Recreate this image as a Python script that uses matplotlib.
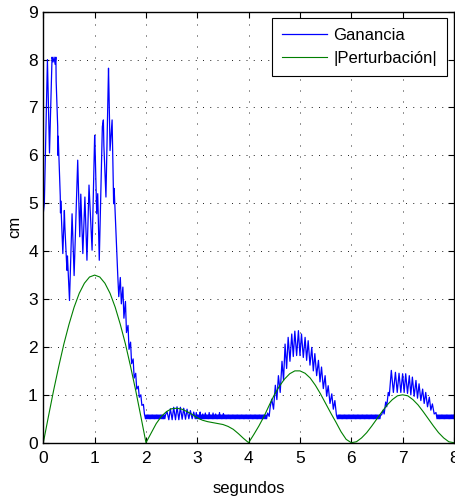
import numpy as np
import matplotlib
matplotlib.use('Agg')
import matplotlib.pyplot as plt

plt.rcParams['font.family'] = ['Liberation Sans', 'DejaVu Sans']

# |Perturbacion| sampled every 0.1 s
pert_v = [0, 0.55, 1.09, 1.59, 2.06, 2.47, 2.83, 3.12, 3.33, 3.46,
          3.5, 3.46, 3.33, 3.12, 2.83, 2.47, 2.06, 1.59, 1.09, 0.55,
          0, 0.2, 0.4, 0.55, 0.65, 0.71, 0.72, 0.70, 0.65, 0.59,
          0.52, 0.47, 0.44, 0.42, 0.40, 0.38, 0.34, 0.28, 0.19, 0.09,
          0, 0.17, 0.35, 0.55, 0.78, 1.0, 1.18, 1.33, 1.44, 1.5,
          1.5, 1.45, 1.35, 1.2, 1.02, 0.82, 0.62, 0.43, 0.23, 0.07,
          0, 0.02, 0.1, 0.21, 0.35, 0.5, 0.65, 0.79, 0.9, 0.98,
          1.0, 0.98, 0.9, 0.79, 0.65, 0.5, 0.35, 0.21, 0.1, 0.02,
          0]

# Ganancia, piece by piece
gain_t_a = [0.00, 0.02, 0.08, 0.12, 0.17, 0.19, 0.21, 0.23, 0.245, 0.25,
            0.28, 0.285, 0.29, 0.33, 0.335, 0.34, 0.38, 0.41, 0.42, 0.46,
            0.47, 0.51, 0.56, 0.60, 0.67, 0.71, 0.73, 0.77, 0.81, 0.85,
            0.89, 0.95, 1.00, 1.01, 1.04, 1.06, 1.09, 1.15, 1.17, 1.18,
            1.22, 1.27, 1.28, 1.30, 1.34, 1.37, 1.38, 1.43, 1.45, 1.47,
            1.50, 1.52, 1.55, 1.57, 1.60, 1.62, 1.65, 1.67, 1.70, 1.72,
            1.75, 1.77, 1.80, 1.82, 1.85, 1.87, 1.90, 1.92, 1.95, 1.97]
gain_v_a = [4.8, 5.0, 8.0, 6.05, 8.05, 7.95, 8.05, 7.9, 8.05, 7.55,
            6.6, 6.0, 6.4, 5.15, 4.8, 5.05, 3.95, 4.85, 4.5, 3.6,
            3.9, 2.97, 4.78, 3.49, 5.9, 4.3, 5.19, 3.95, 5.13, 3.81,
            5.38, 4.02, 6.42, 6.1, 4.78, 5.2, 3.81, 6.6, 6.74, 6.2,
            5.13, 7.82, 7.3, 6.1, 6.74, 4.99, 5.31, 4.0, 3.5, 3.05,
            3.45, 2.9, 3.25, 2.6, 2.95, 2.3, 2.45, 1.95, 2.1, 1.65,
            1.75, 1.35, 1.45, 1.12, 1.18, 0.95, 1.0, 0.78, 0.8, 0.6]

band1_v = [0.5, 0.58, 0.5, 0.58, 0.5, 0.58, 0.5, 0.58, 0.5, 0.58, 0.5, 0.58, 0.5, 0.58, 0.5, 0.58,
           0.5, 0.58, 0.5, 0.58, 0.5, 0.58, 0.5, 0.58, 0.5, 0.58, 0.5, 0.58, 0.5, 0.58, 0.5, 0.58]

gain_t_d = [2.41, 2.445, 2.475, 2.51, 2.54, 2.575, 2.605, 2.64, 2.67,
            2.705, 2.735, 2.77, 2.80, 2.835, 2.865, 2.90, 2.93, 2.96]
gain_v_d = [0.65, 0.48, 0.71, 0.48, 0.74, 0.48, 0.75, 0.48, 0.74,
            0.49, 0.72, 0.49, 0.70, 0.5, 0.67, 0.5, 0.64, 0.5]

band2_v = [0.63, 0.5, 0.58, 0.5, 0.58, 0.5, 0.64, 0.49, 0.58, 0.5, 0.6, 0.5,
           0.58, 0.5, 0.62, 0.5, 0.58, 0.5, 0.58, 0.5, 0.63, 0.5, 0.58, 0.5,
           0.58, 0.5, 0.62, 0.5, 0.58, 0.5, 0.6, 0.5, 0.58, 0.5, 0.58, 0.5,
           0.63, 0.5, 0.58, 0.5, 0.58, 0.5, 0.61, 0.5, 0.58, 0.5, 0.58, 0.5,
           0.58, 0.5, 0.58, 0.5, 0.58, 0.5, 0.58, 0.5, 0.58, 0.5, 0.58, 0.5,
           0.58, 0.5, 0.58, 0.5, 0.58, 0.5, 0.58, 0.5, 0.58, 0.5, 0.58, 0.5,
           0.58, 0.5, 0.58, 0.5, 0.58, 0.5, 0.58, 0.5, 0.58, 0.5, 0.58, 0.5,
           0.58, 0.5, 0.58, 0.5, 0.58, 0.5, 0.58, 0.5, 0.58, 0.5, 0.58, 0.5,
           0.58, 0.5, 0.58, 0.5, 0.58, 0.5, 0.58, 0.5, 0.58, 0.5, 0.58, 0.5,
           0.58, 0.5]

gain_t_f = [4.37, 4.40, 4.42, 4.45, 4.485, 4.52, 4.55, 4.58, 4.615, 4.65,
            4.68, 4.71, 4.74, 4.77, 4.805, 4.84, 4.87, 4.90, 4.935, 4.97,
            5.0, 5.03, 5.065, 5.10, 5.13, 5.16, 5.195, 5.23, 5.26, 5.29,
            5.325, 5.36, 5.39, 5.42, 5.455, 5.49, 5.52, 5.55, 5.585, 5.62,
            5.65, 5.68, 5.71]
gain_v_f = [0.62, 0.55, 0.75, 0.91, 0.7, 1.2, 0.9, 1.4, 1.05, 1.7,
            1.3, 2.06, 1.55, 2.2, 1.7, 2.27, 1.8, 2.33, 1.82, 2.34,
            1.82, 2.27, 1.78, 2.2, 1.72, 2.13, 1.62, 1.99, 1.5, 1.86,
            1.4, 1.72, 1.27, 1.58, 1.13, 1.4, 0.97, 1.19, 0.82, 1.02,
            0.7, 0.88, 0.58]

band3_v = [0.5, 0.58, 0.5, 0.58, 0.5, 0.58, 0.5, 0.58, 0.5, 0.58, 0.5, 0.58,
           0.5, 0.58, 0.5, 0.58, 0.5, 0.58, 0.5, 0.58, 0.5, 0.58, 0.5, 0.58,
           0.5, 0.58, 0.5, 0.58, 0.5, 0.58, 0.5, 0.58, 0.5, 0.58, 0.5, 0.58,
           0.5, 0.58, 0.5, 0.58, 0.5, 0.58, 0.5, 0.58, 0.5, 0.58, 0.5, 0.58,
           0.5, 0.58, 0.5, 0.58, 0.5, 0.58, 0.5, 0.58, 0.5, 0.58, 0.5, 0.58,
           0.5, 0.58, 0.5, 0.58, 0.5, 0.58, 0.5, 0.58]

gain_t_h = [6.59, 6.62, 6.64, 6.67, 6.69, 6.72, 6.74, 6.78, 6.82, 6.86,
            6.895, 6.93, 6.965, 7.0, 7.03, 7.06, 7.095, 7.13, 7.16, 7.19,
            7.225, 7.26, 7.29, 7.32, 7.355, 7.39, 7.42, 7.45, 7.485, 7.52,
            7.55, 7.58, 7.615, 7.65]
gain_v_h = [0.58, 0.68, 0.6, 0.85, 0.75, 1.05, 0.98, 1.51, 1.05, 1.47,
            1.05, 1.45, 1.05, 1.44, 1.05, 1.44, 1.03, 1.40, 1.0, 1.37,
            0.97, 1.30, 0.93, 1.23, 0.88, 1.12, 0.82, 1.05, 0.75, 0.95,
            0.68, 0.81, 0.6, 0.63]

band4_v = [0.5, 0.58, 0.5, 0.58, 0.5, 0.58, 0.5, 0.58, 0.5, 0.58, 0.5, 0.58, 0.5, 0.58,
           0.5, 0.58, 0.5, 0.58, 0.5, 0.58, 0.5, 0.58, 0.5, 0.58, 0.5, 0.58, 0.5, 0.58]


def band_t(t0, t1, vals):
    return list(np.linspace(t0, t1, len(vals)))


gain_t = (gain_t_a + band_t(1.99, 2.38, band1_v) + gain_t_d
          + band_t(2.98, 4.35, band2_v) + gain_t_f
          + band_t(5.73, 6.57, band3_v) + gain_t_h
          + band_t(7.67, 8.0, band4_v))
gain_v = (gain_v_a + band1_v + gain_v_d + band2_v + gain_v_f
          + band3_v + gain_v_h + band4_v)
pert_t = np.linspace(0, 8, len(pert_v))

fig = plt.figure(figsize=(4.56, 5.04), dpi=100)
ax = fig.add_axes([0.095, 0.1216, 0.9005, 0.8552])

ax.plot(gain_t, gain_v, color='#0000ff', lw=0.9, label='Ganancia')
ax.plot(pert_t, pert_v, color='#007f00', lw=0.8, label='|Perturbación|')

ax.set_xlim(0, 8)
ax.set_ylim(0, 9)
ax.set_xticks(range(0, 9))
ax.set_yticks(range(0, 10))
ax.tick_params(direction='in', top=True, right=True, length=4, width=0.8,
               labelsize=12.5)
ax.tick_params(axis='x', pad=6)
ax.tick_params(axis='y', pad=4)
for s in ax.spines.values():
    s.set_linewidth(1.0)

ax.xaxis.grid(True, color='k', lw=0.6, linestyle=(0, (1.2, 12)))
ax.yaxis.grid(True, color='k', lw=0.6, linestyle=(0, (1.2, 7.5)))

ax.set_xlabel('segundos', fontsize=12, labelpad=11)
ax.set_ylabel('cm', fontsize=12, labelpad=4)

leg = ax.legend(loc='upper right', bbox_to_anchor=(0.983, 0.985), borderaxespad=0,
                fontsize=12, fancybox=False, framealpha=1, edgecolor='k',
                handlelength=2.7, borderpad=0.6, labelspacing=0.45, handletextpad=0.4)
leg.get_frame().set_linewidth(0.8)

fig.savefig('out.png', dpi=100)
